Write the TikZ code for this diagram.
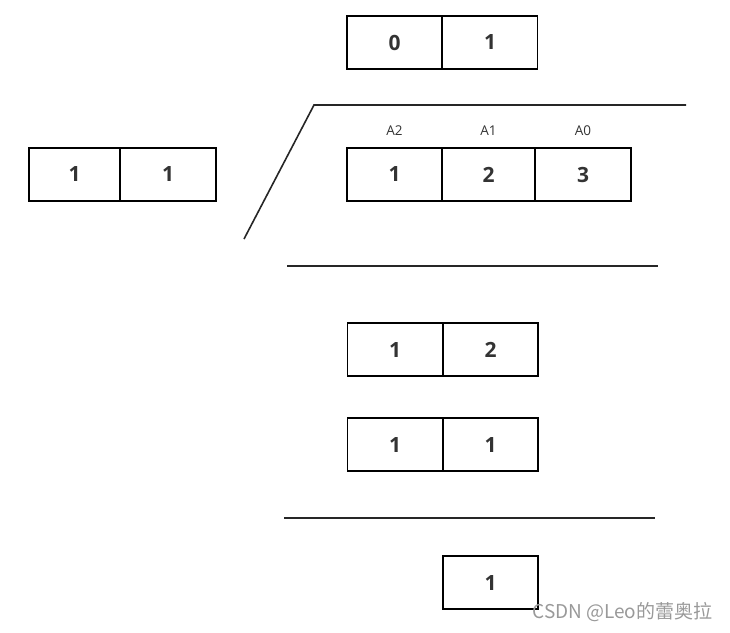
\documentclass[tikz,border=0pt]{standalone}
\usepackage{fontspec}
\setmainfont{Open Sans}
\newfontfamily\cjk{Noto Sans CJK SC}
\usepackage{tikz}
\usetikzlibrary{positioning}
\tikzset{cell/.style = {draw, line width=1.5pt, minimum width=95pt, minimum height=53pt, inner sep=0pt, font=\fontsize{21}{21}\selectfont\bfseries, text=black!80},
  tag/.style = {font=\fontsize{13.5}{13.5}\selectfont, text=black!80},
  rule/.style = {line width=1.6pt, draw=black!85}}

\begin{document}
\begin{tikzpicture}[x=1pt,y=-1pt]
\useasboundingbox (0,0) rectangle (730,632);
    % top
    \node[cell] (t1) at (394.5,42.5) {0};
    \node[cell] (t2) at (490,42.5) {1};
    % left
    \node[cell,minimum width=91pt] (l1) at (74.5,174.5) {1};
    \node[cell,minimum width=96pt] (l2) at (168,174.5) {1};
    % A row
    \node[cell] (a2) at (394.5,174.5) {1};
    \node[cell,minimum width=93pt] (a1) at (488.5,174.5) {2};
    \node[cell,minimum width=96pt] (a0) at (583,174.5) {3};
    \node[tag,above=8pt of a2] (n2) {A2};
    \node[tag,above=8pt of a1] (n1) {A1};
    \node[tag,above=8pt of a0] (n0) {A0};
    % middle
    \node[cell] (m1) at (395,349.5) {1};
    \node[cell] (m2) at (490.5,349.5) {2};
    \node[cell] (r1) at (395,444.5) {1};
    \node[cell] (r2) at (490.5,444.5) {1};
    % bottom
    \node[cell] (b1) at (490.5,582.5) {1};
    % lines
    \coordinate (s0) at (244,239);
    \coordinate (s1) at (314,105);
    \coordinate (s2) at (686,105);
    \coordinate (h1) at (287,266);
    \coordinate (h2) at (658,266);
    \coordinate (k1) at (284,518);
    \coordinate (k2) at (655,518);
    \draw[rule] (s0) -- (s1) -- (s2);
    \draw[rule] (h1) -- (h2);
    \draw[rule] (k1) -- (k2);
    \node[font=\cjk\fontsize{19}{19}\selectfont, text=black!40, anchor=east] (wm) at (716,612) {CSDN @Leo的蕾奥拉};
\end{tikzpicture}
\end{document}
